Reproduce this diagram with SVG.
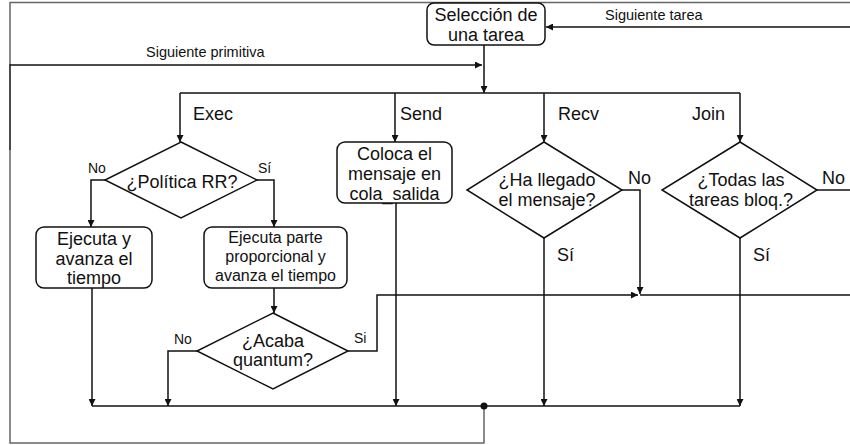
<svg xmlns="http://www.w3.org/2000/svg" width="850" height="445" viewBox="0 0 850 445">
<defs>
<marker id="ah" viewBox="0 0 10 10" refX="10" refY="5" markerWidth="8" markerHeight="7" markerUnits="userSpaceOnUse" orient="auto">
<path d="M0,0 L10,5 L0,10 z" fill="#111"/>
</marker>
<style>
text{font-family:"Liberation Sans",Arial,sans-serif;fill:#111}
.t18{font-size:18px;text-anchor:middle}
.t16{font-size:16px;text-anchor:middle}
.lb{font-size:18px}
.sm{font-size:14.5px}
.ln{font-size:14px}
.box{fill:#fff;stroke:#111;stroke-width:1.5}
.c{fill:none;stroke:#111;stroke-width:1.5}
.g{fill:none;stroke:#666;stroke-width:1.5}
</style>
</defs>
<rect width="850" height="445" fill="#fff"/>
<g id="connectors">
<path class="g" d="M10,65 V2.5 H850"/>
<path class="g" d="M484,406 V443 H10 V150"/>
<path class="c" d="M10,150 V65 H482" marker-end="url(#ah)"/>
<path class="c" d="M850,27 H546" marker-end="url(#ah)"/>
<path class="c" d="M484,45 V93" marker-end="url(#ah)"/>
<path class="c" d="M180,93 H740"/>
<path class="c" d="M180,93 V142" marker-end="url(#ah)"/>
<path class="c" d="M395,93 V142" marker-end="url(#ah)"/>
<path class="c" d="M544,93 V142" marker-end="url(#ah)"/>
<path class="c" d="M740,93 V142" marker-end="url(#ah)"/>
<path class="c" d="M105,180 H91 V227" marker-end="url(#ah)"/>
<path class="c" d="M257,180 H274 V227" marker-end="url(#ah)"/>
<path class="c" d="M274,288 V313" marker-end="url(#ah)"/>
<path class="c" d="M92,288 V406" marker-end="url(#ah)"/>
<path class="c" d="M197,351 H168 V406" marker-end="url(#ah)"/>
<path class="c" d="M348,351 H377 V295 H638" marker-end="url(#ah)"/>
<path class="c" d="M640,295 H858" marker-end="url(#ah)"/>
<path class="c" d="M396,203 V406" marker-end="url(#ah)"/>
<path class="c" d="M544,238 V406" marker-end="url(#ah)"/>
<path class="c" d="M740,238 V406" marker-end="url(#ah)"/>
<path class="c" d="M622,190 H640 V294" marker-end="url(#ah)"/>
<path class="c" d="M817,190 H858" marker-end="url(#ah)"/>
<path class="c" d="M92,406 H740"/>
<circle cx="484" cy="406" r="3.5" fill="#111"/>
<text class="sm" x="146" y="57">Siguiente primitiva</text>
<text class="sm" x="605" y="20">Siguiente tarea</text>
<text class="lb" x="193" y="120">Exec</text>
<text class="lb" x="400" y="120">Send</text>
<text class="lb" x="558" y="120">Recv</text>
<text class="lb" x="692" y="120">Join</text>
<text class="ln" x="88" y="173">No</text>
<text class="ln" x="258" y="173">Sí</text>
<text class="ln" x="174" y="344">No</text>
<text class="ln" x="354" y="343">Si</text>
<text class="lb" x="628" y="184">No</text>
<text class="lb" x="822" y="184">No</text>
<text class="lb" x="557" y="261">Sí</text>
<text class="lb" x="753" y="261">Sí</text>
</g>
<g id="seleccion">
<rect class="box" x="427" y="3" width="118" height="42" rx="7"/>
<text class="t18" x="486" y="21">Selección de</text>
<text class="t18" x="486" y="41">una tarea</text>
</g>
<g id="politica">
<path class="box" d="M181,142 L257,180 L181,218 L105,180 z"/>
<text class="t18" x="182" y="188">¿Política RR?</text>
</g>
<g id="ejecuta">
<rect class="box" x="36" y="227" width="116" height="61" rx="8"/>
<text class="t18" x="94" y="245">Ejecuta y</text>
<text class="t18" x="94" y="265">avanza el</text>
<text class="t18" x="94" y="284">tiempo</text>
</g>
<g id="ejecuta-parte">
<rect class="box" x="204" y="227" width="143" height="61" rx="8"/>
<text class="t16" x="275.5" y="243">Ejecuta parte</text>
<text class="t16" x="275.5" y="262">proporcional y</text>
<text class="t16" x="275.5" y="281">avanza el tiempo</text>
</g>
<g id="acaba">
<path class="box" d="M273,313 L348,351 L273,389 L197,351 z"/>
<text class="t18" x="273" y="347">¿Acaba</text>
<text class="t18" x="273" y="366">quantum?</text>
</g>
<g id="coloca">
<rect class="box" x="337" y="142" width="115" height="61" rx="8"/>
<text class="t18" x="394.5" y="160">Coloca el</text>
<text class="t18" x="394.5" y="180">mensaje en</text>
<text class="t18" x="394.5" y="200">cola_salida</text>
</g>
<g id="recv">
<path class="box" d="M544,142 L622,190 L544,238 L467,190 z"/>
<text class="t18" x="547" y="186">¿Ha llegado</text>
<text class="t18" x="547" y="206">el mensaje?</text>
</g>
<g id="join">
<path class="box" d="M740,142 L817,190 L740,238 L662,190 z"/>
<text class="t18" x="741" y="186">¿Todas las</text>
<text class="t18" x="741" y="206">tareas bloq.?</text>
</g>
</svg>
